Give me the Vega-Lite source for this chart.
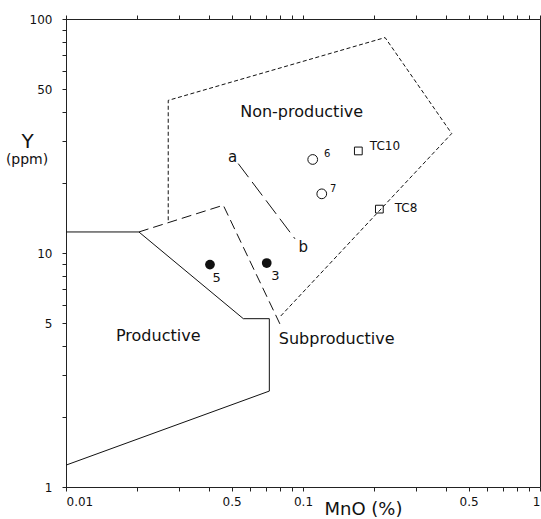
{
  "$schema": "https://vega.github.io/schema/vega-lite/v6.json",
  "width": 474,
  "height": 468,
  "autosize": {"type": "none"},
  "padding": {"left": 66, "top": 19, "right": 1, "bottom": 32},
  "background": "white",
  "config": {
    "font": "DejaVu Sans",
    "view": {"stroke": "#222", "strokeWidth": 1},
    "axis": {"domainColor": "#222", "tickColor": "#222", "labelColor": "#111", "titleColor": "#111", "grid": false, "labelFont": "DejaVu Sans", "titleFont": "DejaVu Sans", "titleFontWeight": "normal"}
  },
  "datasets": {
    "lines": [
      {"group": "prod", "order": 1, "mno": 0.01, "yppm": 12.3},
      {"group": "prod", "order": 2, "mno": 0.0203, "yppm": 12.3},
      {"group": "prod", "order": 3, "mno": 0.056, "yppm": 5.24},
      {"group": "prod", "order": 4, "mno": 0.0721, "yppm": 5.24},
      {"group": "prod", "order": 5, "mno": 0.0721, "yppm": 2.57},
      {"group": "prod", "order": 6, "mno": 0.01, "yppm": 1.24},
      {"group": "nonprod", "order": 1, "mno": 0.027, "yppm": 13.8},
      {"group": "nonprod", "order": 2, "mno": 0.027, "yppm": 44.9},
      {"group": "nonprod", "order": 3, "mno": 0.222, "yppm": 83.3},
      {"group": "nonprod", "order": 4, "mno": 0.424, "yppm": 32.4},
      {"group": "nonprod", "order": 5, "mno": 0.080, "yppm": 5.34},
      {"group": "subprod", "order": 1, "mno": 0.0203, "yppm": 12.3},
      {"group": "subprod", "order": 2, "mno": 0.0461, "yppm": 16.0},
      {"group": "subprod", "order": 3, "mno": 0.0808, "yppm": 4.86},
      {"group": "ab", "order": 1, "mno": 0.0533, "yppm": 24.1},
      {"group": "ab", "order": 2, "mno": 0.0925, "yppm": 11.5}
    ],
    "samples": [
      {"id": "5", "type": "filled", "mno": 0.0405, "yppm": 8.92},
      {"id": "3", "type": "filled", "mno": 0.0703, "yppm": 9.06},
      {"id": "6", "type": "open", "mno": 0.1099, "yppm": 25.1},
      {"id": "7", "type": "open", "mno": 0.120, "yppm": 17.9},
      {"id": "TC10", "type": "square", "mno": 0.1712, "yppm": 27.3},
      {"id": "TC8", "type": "square", "mno": 0.210, "yppm": 15.4}
    ],
    "texts": [
      {"kind": "region", "label": "Non-productive", "mno": 0.0987, "yppm": 40.0},
      {"kind": "region", "label": "Productive", "mno": 0.0245, "yppm": 4.41},
      {"kind": "region", "label": "Subproductive", "mno": 0.1387, "yppm": 4.31},
      {"kind": "letter", "label": "a", "mno": 0.0505, "yppm": 25.7},
      {"kind": "letter", "label": "b", "mno": 0.1003, "yppm": 10.6},
      {"kind": "num", "label": "5", "mno": 0.0432, "yppm": 7.85},
      {"kind": "num", "label": "3", "mno": 0.0764, "yppm": 7.97},
      {"kind": "sup", "label": "6", "mno": 0.1266, "yppm": 26.4},
      {"kind": "sup", "label": "7", "mno": 0.1342, "yppm": 18.7},
      {"kind": "tc", "label": "TC10", "mno": 0.2218, "yppm": 28.6},
      {"kind": "tc", "label": "TC8", "mno": 0.272, "yppm": 15.5},
      {"kind": "unit", "label": "(ppm)", "mno": 0.00685, "yppm": 24.9}
    ]
  },
  "layer": [
    {
      "data": {"name": "lines"},
      "transform": [{"filter": "datum.group == 'prod'"}],
      "mark": {"type": "line", "color": "#111", "strokeWidth": 1},
      "encoding": {
        "x": {"field": "mno", "type": "quantitative",
          "scale": {"type": "log", "domain": [0.01, 1], "nice": false},
          "axis": {"orient": "bottom",
            "values": [0.01, 0.02, 0.03, 0.04, 0.05, 0.06, 0.07, 0.08, 0.09, 0.1, 0.2, 0.3, 0.4, 0.5, 0.6, 0.7, 0.8, 0.9, 1],
            "labelExpr": "datum.value == 0.01 ? '0.01' : datum.value == 0.05 ? '0.5' : datum.value == 0.1 ? '0.1' : datum.value == 0.5 ? '0.5' : datum.value == 1 ? '1' : ''",
            "labelOverlap": false, "labelFlush": true, "labelFontSize": 12, "tickSize": 4, "labelPadding": 5,
            "title": "MnO (%)", "titleFontSize": 18, "titleX": 297, "titleY": 27, "titleBaseline": "alphabetic", "titleAlign": "center"}},
        "y": {"field": "yppm", "type": "quantitative",
          "scale": {"type": "log", "domain": [1, 100], "nice": false},
          "axis": {"orient": "left",
            "values": [1, 2, 3, 4, 5, 6, 7, 8, 9, 10, 20, 30, 40, 50, 60, 70, 80, 90, 100],
            "labelExpr": "datum.value == 1 ? '1' : datum.value == 5 ? '5' : datum.value == 10 ? '10' : datum.value == 50 ? '50' : datum.value == 100 ? '100' : ''",
            "labelOverlap": false, "labelFontSize": 12, "tickSize": 4, "labelPadding": 10,
            "title": "Y", "titleAngle": 0, "titleFontSize": 20, "titleX": -39, "titleY": 128, "titleAlign": "center", "titleBaseline": "alphabetic"}},
        "order": {"field": "order", "type": "quantitative"}
      }
    },
    {
      "data": {"name": "lines"},
      "transform": [{"filter": "datum.group == 'nonprod'"}],
      "mark": {"type": "line", "color": "#111", "strokeWidth": 1, "strokeDash": [4, 2.5]},
      "encoding": {
        "x": {"field": "mno", "type": "quantitative",
          "axis": {"orient": "top",
            "values": [0.01, 0.02, 0.03, 0.04, 0.05, 0.06, 0.07, 0.08, 0.09, 0.1, 0.2, 0.3, 0.4, 0.5, 0.6, 0.7, 0.8, 0.9, 1],
            "labels": false, "title": null, "tickSize": 4}},
        "y": {"field": "yppm", "type": "quantitative", "axis": null},
        "order": {"field": "order", "type": "quantitative"}
      }
    },
    {
      "data": {"name": "lines"},
      "transform": [{"filter": "datum.group == 'subprod'"}],
      "mark": {"type": "line", "color": "#111", "strokeWidth": 1, "strokeDash": [10, 5]},
      "encoding": {
        "x": {"field": "mno", "type": "quantitative", "axis": null},
        "y": {"field": "yppm", "type": "quantitative", "axis": null},
        "order": {"field": "order", "type": "quantitative"}
      }
    },
    {
      "data": {"name": "lines"},
      "transform": [{"filter": "datum.group == 'ab'"}],
      "mark": {"type": "line", "color": "#111", "strokeWidth": 1, "strokeDash": [17, 6]},
      "encoding": {
        "x": {"field": "mno", "type": "quantitative", "axis": null},
        "y": {"field": "yppm", "type": "quantitative", "axis": null},
        "order": {"field": "order", "type": "quantitative"}
      }
    },
    {
      "data": {"name": "samples"},
      "transform": [{"filter": "datum.type == 'filled'"}],
      "mark": {"type": "point", "shape": "circle", "filled": true, "color": "#111", "size": 95, "opacity": 1},
      "encoding": {
        "x": {"field": "mno", "type": "quantitative", "axis": null},
        "y": {"field": "yppm", "type": "quantitative", "axis": null}
      }
    },
    {
      "data": {"name": "samples"},
      "transform": [{"filter": "datum.type == 'open'"}],
      "mark": {"type": "point", "shape": "circle", "filled": false, "color": "#111", "size": 95, "strokeWidth": 1, "opacity": 1},
      "encoding": {
        "x": {"field": "mno", "type": "quantitative", "axis": null},
        "y": {"field": "yppm", "type": "quantitative", "axis": null}
      }
    },
    {
      "data": {"name": "samples"},
      "transform": [{"filter": "datum.type == 'square'"}],
      "mark": {"type": "point", "shape": "square", "filled": false, "color": "#111", "size": 60, "strokeWidth": 1, "opacity": 1},
      "encoding": {
        "x": {"field": "mno", "type": "quantitative", "axis": null},
        "y": {"field": "yppm", "type": "quantitative", "axis": null}
      }
    },
    {
      "data": {"name": "texts"},
      "transform": [{"filter": "datum.kind == 'region'"}],
      "mark": {"type": "text", "fontSize": 16, "color": "#111", "align": "center", "baseline": "middle"},
      "encoding": {
        "x": {"field": "mno", "type": "quantitative", "axis": null},
        "y": {"field": "yppm", "type": "quantitative", "axis": null},
        "text": {"field": "label"}
      }
    },
    {
      "data": {"name": "texts"},
      "transform": [{"filter": "datum.kind == 'letter'"}],
      "mark": {"type": "text", "fontSize": 15, "color": "#111", "align": "center", "baseline": "middle"},
      "encoding": {
        "x": {"field": "mno", "type": "quantitative", "axis": null},
        "y": {"field": "yppm", "type": "quantitative", "axis": null},
        "text": {"field": "label"}
      }
    },
    {
      "data": {"name": "texts"},
      "transform": [{"filter": "datum.kind == 'num'"}],
      "mark": {"type": "text", "fontSize": 13, "color": "#111", "align": "center", "baseline": "middle"},
      "encoding": {
        "x": {"field": "mno", "type": "quantitative", "axis": null},
        "y": {"field": "yppm", "type": "quantitative", "axis": null},
        "text": {"field": "label"}
      }
    },
    {
      "data": {"name": "texts"},
      "transform": [{"filter": "datum.kind == 'sup'"}],
      "mark": {"type": "text", "fontSize": 10, "color": "#111", "align": "center", "baseline": "middle"},
      "encoding": {
        "x": {"field": "mno", "type": "quantitative", "axis": null},
        "y": {"field": "yppm", "type": "quantitative", "axis": null},
        "text": {"field": "label"}
      }
    },
    {
      "data": {"name": "texts"},
      "transform": [{"filter": "datum.kind == 'tc'"}],
      "mark": {"type": "text", "fontSize": 12, "color": "#111", "align": "center", "baseline": "middle"},
      "encoding": {
        "x": {"field": "mno", "type": "quantitative", "axis": null},
        "y": {"field": "yppm", "type": "quantitative", "axis": null},
        "text": {"field": "label"}
      }
    },
    {
      "data": {"name": "texts"},
      "transform": [{"filter": "datum.kind == 'unit'"}],
      "mark": {"type": "text", "fontSize": 14, "color": "#111", "align": "center", "baseline": "middle", "clip": false},
      "encoding": {
        "x": {"field": "mno", "type": "quantitative", "axis": null},
        "y": {"field": "yppm", "type": "quantitative", "axis": null},
        "text": {"field": "label"}
      }
    }
  ],
  "resolve": {"axis": {"x": "independent", "y": "independent"}}
}
